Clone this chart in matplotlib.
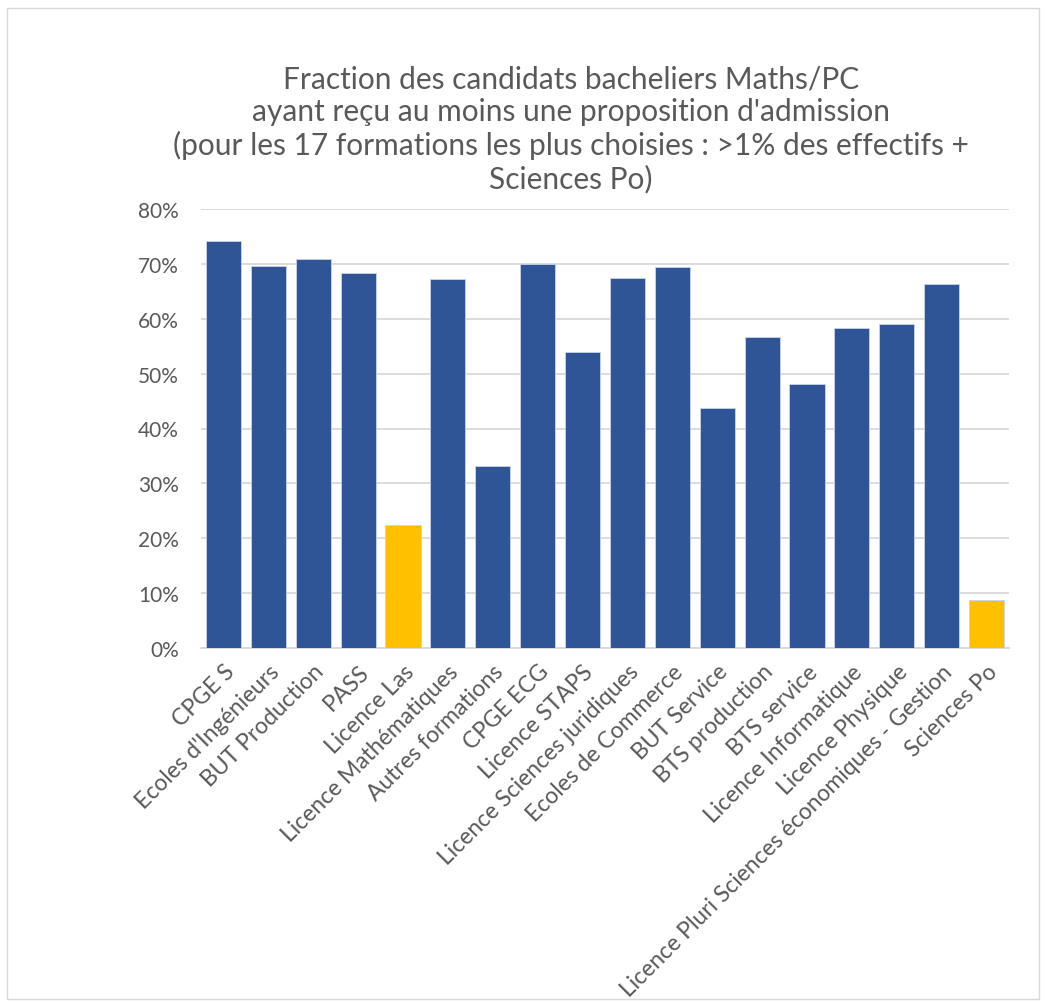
import matplotlib.pyplot as plt
from matplotlib.patches import Rectangle
from matplotlib.ticker import PercentFormatter

# data
formations = ["CPGE S", "Ecoles d'Ingénieurs", "BUT Production", "PASS", "Licence Las",
              "Licence Mathématiques", "Autres formations", "CPGE ECG", "Licence STAPS",
              "Licence Sciences juridiques", "Ecoles de Commerce", "BUT Service",
              "BTS production", "BTS service", "Licence Informatique", "Licence Physique",
              "Licence Pluri Sciences économiques - Gestion", "Sciences Po"]
fraction = [74.1, 69.7, 70.8, 68.3, 22.4, 67.2, 33.2, 69.9, 53.9,
            67.4, 69.5, 43.7, 56.7, 48.1, 58.3, 59.1, 66.3, 8.75]
highlight = ["Licence Las", "Sciences Po"]

blue = "#2F5597"
yellow = "#FFC000"
grey_text = "#595959"

plt.rcParams['font.family'] = ['Lato', 'DejaVu Sans']

fig = plt.figure(figsize=(10.46, 10.03), dpi=100)
ax = fig.add_axes([201 / 1046, 1 - 649 / 1003, 808 / 1046, 439 / 1003])

# light frame around the whole chart
fig.patches.append(Rectangle((7 / 1046, 3 / 1003), 1032 / 1046, 991 / 1003,
                             transform=fig.transFigure, fill=False,
                             edgecolor="#D9D9D9", linewidth=1))

colors = [yellow if f in highlight else blue for f in formations]
x = range(len(formations))
ax.bar(x, fraction, width=0.78, color=colors, edgecolor="#C9D3EA", linewidth=0.6, zorder=3)

ax.set_ylim(0, 80)
ax.set_xlim(-0.5, len(formations) - 0.5)
ax.set_yticks(range(0, 81, 10))
ax.yaxis.set_major_formatter(PercentFormatter(decimals=0))
ax.grid(axis='y', color="#D9D9D9", linewidth=1.3, zorder=0)
for s in ['top', 'right', 'left']:
    ax.spines[s].set_visible(False)
ax.spines['bottom'].set_color("#D9D9D9")
ax.spines['bottom'].set_linewidth(1.3)
ax.tick_params(axis='y', length=0, labelsize=15, labelcolor=grey_text, pad=16)
ax.tick_params(axis='x', length=0, labelsize=16.5, labelcolor=grey_text, pad=9)
ax.set_xticks(list(x))
ax.set_xticklabels(formations, rotation=45, ha='right', rotation_mode='anchor')

fig.text(571 / 1046, 1 - 129 / 1003,
         "Fraction des candidats bacheliers Maths/PC\n"
         "ayant reçu au moins une proposition d'admission\n"
         "(pour les 17 formations les plus choisies : >1% des effectifs +\n"
         "Sciences Po)",
         ha='center', va='center', fontsize=21.5, color=grey_text, linespacing=1.2)

fig.savefig("out.png", dpi=100)
